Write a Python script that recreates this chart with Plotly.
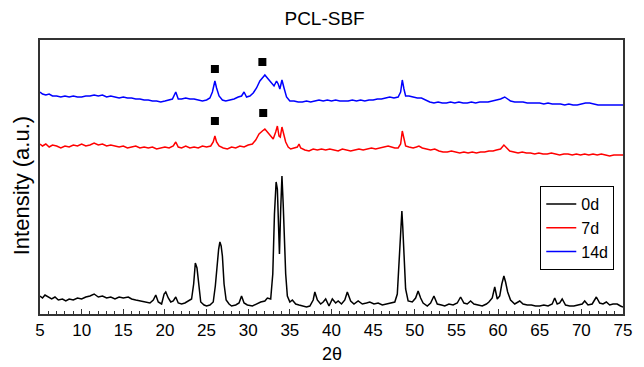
import plotly.graph_objects as go

# ---- data (2θ, intensity in arbitrary units) ----
x_0d = [5.0, 5.3, 5.6, 6.0, 6.4, 6.8, 7.2, 7.7, 8.1, 8.5, 9.0, 9.5, 10.0, 10.5, 11.0, 11.5, 12.0, 12.5,
        13.0, 13.5, 14.0, 14.5, 15.0, 15.6, 16.0, 16.5, 17.0, 17.6, 18.2, 18.6, 18.9, 19.2, 19.6, 19.9,
        20.1, 20.4, 20.7, 21.0, 21.3, 21.6, 22.0, 22.4, 22.8, 23.2, 23.45, 23.65, 23.85, 24.05, 24.3,
        24.7, 25.0, 25.4, 25.8, 26.05, 26.25, 26.45, 26.6, 26.75, 26.9, 27.1, 27.35, 27.7, 28.0, 28.5,
        28.9, 29.2, 29.5, 29.9, 30.5, 31.0, 31.5, 32.0, 32.3, 32.7, 32.95, 33.15, 33.35, 33.5, 33.65,
        33.75, 33.9, 34.05, 34.2, 34.35, 34.5, 34.7, 35.0, 35.3, 35.7, 36.1, 36.5, 37.0, 37.4, 37.8,
        38.0, 38.3, 38.7, 39.0, 39.3, 39.7, 40.1, 40.5, 40.8, 41.2, 41.6, 41.9, 42.3, 42.7, 43.2, 43.7,
        44.2, 44.6, 45.1, 45.6, 46.1, 46.6, 47.1, 47.6, 47.9, 48.15, 48.35, 48.45, 48.55, 48.7, 48.9,
        49.2, 49.7, 50.1, 50.4, 50.7, 51.0, 51.5, 51.9, 52.3, 52.7, 53.2, 53.6, 54.1, 54.6, 55.1, 55.5,
        55.9, 56.3, 56.7, 57.1, 57.6, 58.1, 58.6, 58.9, 59.3, 59.6, 59.9, 60.2, 60.45, 60.7, 60.9,
        61.15, 61.5, 62.0, 62.6, 63.0, 63.5, 64.0, 64.5, 65.0, 65.5, 66.0, 66.5, 66.8, 67.1, 67.4, 67.7,
        68.1, 68.6, 69.1, 69.6, 70.1, 70.4, 70.8, 71.3, 71.8, 72.2, 72.6, 73.0, 73.4, 73.8, 74.3, 74.7, 75.0]
y_0d = [18, 16, 19, 17, 15, 17, 14, 15, 13, 15, 14, 16, 15, 17, 18, 20, 17, 18,
        16, 17, 15, 17, 16, 17, 15, 14, 13, 12, 11, 14, 19, 12, 10, 20,
        22, 16, 12, 13, 17, 11, 10, 11, 13, 15, 30, 51, 46, 30, 12,
        9, 8, 9, 12, 28, 50, 65, 72, 68, 58, 30, 14, 10, 8, 9,
        11, 18, 11, 9, 8, 10, 12, 13, 16, 15, 40, 100, 132, 125, 80,
        60, 105, 138, 110, 75, 40, 18, 12, 14, 10, 9, 8, 7, 8, 14,
        22, 14, 10, 12, 15, 8, 15, 11, 13, 10, 14, 22, 13, 10, 13, 10,
        11, 12, 10, 11, 9, 10, 11, 12, 20, 55, 95, 103, 88, 55, 25,
        13, 12, 16, 23, 16, 11, 8, 11, 18, 10, 9, 8, 10, 9, 11, 17,
        11, 10, 13, 10, 9, 8, 10, 12, 16, 27, 15, 18, 30, 38, 32,
        22, 14, 10, 13, 10, 9, 9, 8, 8, 9, 8, 10, 16, 10, 11, 15,
        9, 8, 8, 9, 10, 13, 9, 10, 17, 11, 10, 12, 9, 10, 10, 8, 7]

x_7d = [5.0, 5.3, 5.7, 6.1, 6.5, 7.0, 7.5, 8.0, 8.5, 9.0, 9.5, 10.0, 10.5, 11.0, 11.5, 12.0, 12.5, 13.0,
        13.5, 14.0, 14.5, 15.0, 15.5, 16.0, 16.5, 17.0, 17.5, 18.0, 18.5, 19.0, 19.5, 20.0, 20.5, 21.0,
        21.3, 21.6, 22.0, 22.5, 23.0, 23.5, 24.0, 24.5, 25.0, 25.5, 25.8, 26.0, 26.2, 26.5, 27.0, 27.5,
        28.0, 28.5, 29.0, 29.5, 30.0, 30.5, 30.9, 31.3, 31.7, 32.0, 32.3, 32.6, 33.0, 33.3, 33.5, 33.7,
        33.85, 34.05, 34.25, 34.5, 34.8, 35.1, 35.5, 35.9, 36.1, 36.3, 36.8, 37.3, 37.8, 38.3, 38.8,
        39.3, 39.8, 40.3, 40.8, 41.3, 41.8, 42.3, 42.8, 43.3, 43.8, 44.3, 44.8, 45.3, 45.8, 46.3, 46.8,
        47.2, 47.6, 48.0, 48.3, 48.5, 48.7, 48.9, 49.3, 49.8, 50.2, 50.5, 50.9, 51.4, 51.9, 52.4, 52.9,
        53.4, 53.9, 54.4, 54.9, 55.4, 55.9, 56.4, 56.9, 57.4, 57.9, 58.4, 58.9, 59.4, 59.8, 60.3, 60.7,
        61.0, 61.4, 61.9, 62.4, 62.9, 63.4, 63.9, 64.4, 64.9, 65.4, 65.9, 66.4, 66.9, 67.4, 67.9, 68.4,
        68.9, 69.4, 69.9, 70.4, 70.9, 71.4, 71.9, 72.4, 72.9, 73.4, 73.9, 74.4, 75.0]
y_7d = [170, 168, 170, 167, 169, 168, 166, 168, 167, 169, 168, 170, 168, 169, 171, 169, 170, 168,
        169, 168, 167, 168, 166, 167, 168, 166, 167, 166, 167, 165, 166, 167, 166, 168,
        172, 167, 166, 168, 166, 167, 166, 168, 167, 168, 172, 178, 172, 168, 166, 165,
        167, 166, 168, 167, 169, 170, 174, 180, 183, 185, 182, 179, 175, 182, 188, 178,
        177, 187, 180, 172, 167, 165, 166, 167, 170, 166, 164, 163, 165, 164, 165,
        164, 165, 164, 163, 165, 164, 163, 164, 165, 164, 165, 166, 165, 166, 167, 168,
        167, 166, 166, 170, 183, 175, 168, 167, 166, 167, 168, 166, 165, 164, 165, 163,
        162, 162, 163, 162, 161, 162, 161, 162, 161, 162, 162, 163, 163, 164, 165, 169,
        166, 163, 162, 161, 162, 161, 161, 160, 161, 160, 160, 161, 160, 159, 160, 160,
        159, 160, 159, 160, 159, 160, 159, 160, 159, 158, 159, 159, 159]

x_14d = [5.0, 5.3, 5.7, 6.1, 6.5, 7.0, 7.5, 8.0, 8.5, 9.0, 9.5, 10.0, 10.5, 11.0, 11.5, 12.0, 12.5, 13.0,
         13.5, 14.0, 14.5, 15.0, 15.5, 16.0, 16.5, 17.0, 17.5, 18.0, 18.5, 19.0, 19.5, 20.0, 20.5, 20.9,
         21.3, 21.6, 22.0, 22.5, 23.0, 23.5, 24.0, 24.5, 25.0, 25.4, 25.7, 26.0, 26.2, 26.5, 26.9, 27.3,
         27.8, 28.3, 28.8, 29.2, 29.5, 29.8, 30.2, 30.6, 31.0, 31.4, 31.8, 32.0, 32.3, 32.6, 32.9, 33.1,
         33.4, 33.6, 33.8, 34.05, 34.3, 34.6, 35.0, 35.5, 36.0, 36.5, 37.0, 37.5, 38.0, 38.5, 39.0, 39.5,
         40.0, 40.5, 41.0, 41.5, 42.0, 42.5, 43.0, 43.5, 44.0, 44.5, 45.0, 45.5, 46.0, 46.5, 47.0, 47.5,
         48.0, 48.3, 48.5, 48.7, 48.9, 49.3, 49.8, 50.3, 50.8, 51.3, 51.8, 52.3, 52.8, 53.3, 53.8, 54.3,
         54.8, 55.3, 55.8, 56.3, 56.8, 57.3, 57.8, 58.3, 58.8, 59.3, 59.8, 60.3, 60.8, 61.1, 61.5, 62.0,
         62.5, 63.0, 63.5, 64.0, 64.5, 65.0, 65.5, 66.0, 66.5, 67.0, 67.5, 68.0, 68.5, 69.0, 69.5, 70.0,
         70.5, 71.0, 71.5, 72.0, 72.5, 73.0, 73.5, 74.0, 74.5, 75.0]
y_14d = [222, 220, 219, 220, 218, 218, 217, 218, 217, 218, 217, 217, 218, 218, 219, 218, 219, 217,
         218, 217, 216, 217, 216, 216, 215, 215, 214, 214, 213, 213, 212, 213, 214, 215,
         222, 215, 215, 216, 215, 215, 214, 213, 214, 216, 222, 233, 226, 218, 214, 213,
         214, 215, 217, 218, 222, 217, 218, 221, 226, 233, 237, 239, 236, 233, 230, 228,
         233, 230, 225, 234, 226, 217, 213, 213, 212, 212, 213, 212, 213, 214, 213, 214,
         213, 214, 213, 213, 213, 214, 213, 214, 213, 214, 214, 215, 215, 216, 217, 216,
         217, 222, 234, 225, 218, 218, 217, 216, 216, 214, 212, 211, 212, 211, 211, 212,
         211, 212, 211, 211, 212, 211, 212, 212, 212, 213, 214, 215, 217, 215, 213, 212,
         212, 212, 211, 211, 211, 211, 210, 211, 210, 210, 210, 209, 210, 209, 209, 210,
         211, 211, 210, 209, 209, 209, 209, 209, 209, 209]

# square markers (peak markers)
mark_x = [26.0, 31.7, 26.0, 31.8]
mark_y = [245, 252, 193, 201]

x_ticks = [5, 10, 15, 20, 25, 30, 35, 40, 45, 50, 55, 60, 65, 70, 75]

FONT = "Liberation Sans, Arial, sans-serif"

# page body has an 8px margin; size the figure so the plot lands where the reference has it
W, H = 636, 359
L, T, R, B = 32, 32, 12, 53
PW = W - L - R   # 592
PH = H - T - B   # 274
OFF = 8


def px_x(px):
    return (px - OFF - L) / PW


def px_y(py):
    return (H - B + OFF - py) / PH


fig = go.Figure()
fig.add_trace(go.Scatter(x=x_0d, y=y_0d, mode="lines", name="0d",
                         line=dict(color="black", width=1.5)))
fig.add_trace(go.Scatter(x=x_7d, y=y_7d, mode="lines", name="7d",
                         line=dict(color="#ff0000", width=1.5)))
fig.add_trace(go.Scatter(x=x_14d, y=y_14d, mode="lines", name="14d",
                         line=dict(color="#0000ff", width=1.5)))
fig.add_trace(go.Scatter(x=mark_x, y=mark_y, mode="markers", showlegend=False,
                         marker=dict(symbol="square", size=8, color="black")))

fig.update_layout(
    width=W, height=H,
    margin=dict(l=L, r=R, t=T, b=B),
    paper_bgcolor="white", plot_bgcolor="white",
    font=dict(family=FONT, color="black"),
    title=dict(text="PCL-SBF", x=px_x(329), xref="paper", xanchor="center",
               y=1 - (18 - OFF) / H, yanchor="middle", font=dict(size=19, color="black")),
    legend=dict(x=px_x(548), y=px_y(186), xanchor="left", yanchor="top",
                bordercolor="black", borderwidth=1, bgcolor="white",
                font=dict(size=16), tracegroupgap=0),
    xaxis=dict(range=[5, 75], tickvals=x_ticks, ticktext=[str(t) for t in x_ticks],
               ticks="inside", ticklen=5, tickwidth=1, tickcolor="#333",
               minor=dict(ticks="inside", dtick=1, ticklen=3, tickcolor="#333"),
               showline=True, linecolor="#333", linewidth=1.5, mirror=True,
               showgrid=False, zeroline=False, tickfont=dict(size=17)),
    yaxis=dict(range=[0, 274], showticklabels=False, ticks="",
               showline=True, linecolor="#333", linewidth=1.5, mirror=True,
               showgrid=False, zeroline=False),
    annotations=[
        dict(text="Intensity (a.u.)", textangle=-90, xref="paper", yref="paper",
             x=px_x(21), y=px_y(186), xanchor="center", yanchor="middle",
             showarrow=False, font=dict(size=22)),
        dict(text="2θ", xref="paper", yref="paper", x=px_x(336), y=px_y(354),
             xanchor="center", yanchor="middle", showarrow=False, font=dict(size=18)),
    ],
)

fig.write_html("out.html")
